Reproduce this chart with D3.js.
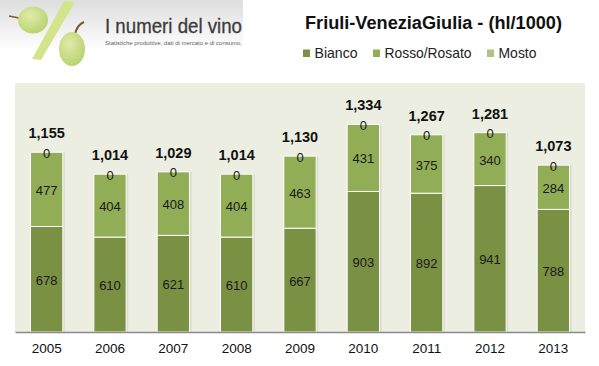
<!DOCTYPE html>
<html>
<head>
<meta charset="utf-8">
<script src="https://cdnjs.cloudflare.com/ajax/libs/d3/7.8.5/d3.min.js"></script>
<style>
  html, body { margin: 0; padding: 0; background: #fff; }
  svg { display: block; }
  text { font-family: "Liberation Sans", Arial, sans-serif; }
</style>
</head>
<body>
<svg id="chart" width="599" height="366"></svg>
<script>
const years = ['2005', '2006', '2007', '2008', '2009', '2010', '2011', '2012', '2013']
const bianco = [678, 610, 621, 610, 667, 903, 892, 941, 788]
const rosso = [477, 404, 408, 404, 463, 431, 375, 340, 284]
const mosto = [0, 0, 0, 0, 0, 0, 0, 0, 0]
const totals = [1155, 1014, 1029, 1014, 1130, 1334, 1267, 1281, 1073]
const seriesNames = ['Bianco', 'Rosso/Rosato', 'Mosto']
const seriesColors = ['#7a9043', '#91ad55', '#aec581']

const svg = d3.select('#chart')
const defs = svg.append('defs')

// header strip behind the logo
let grad = defs.append('linearGradient').attr('id', 'head').attr('x1', 0).attr('x2', 0).attr('y1', 0).attr('y2', 1)
grad.append('stop').attr('offset', 0).attr('stop-color', '#dddddd')
grad.append('stop').attr('offset', 0.72).attr('stop-color', '#ffffff')

let grape = defs.append('radialGradient').attr('id', 'grape').attr('cx', 0.4).attr('cy', 0.35).attr('r', 0.75)
grape.append('stop').attr('offset', 0).attr('stop-color', '#dfeba8')
grape.append('stop').attr('offset', 1).attr('stop-color', '#b4d06a')

let logo = svg.append('g')
logo.append('rect').attr('width', 243).attr('height', 70).attr('fill', 'url(#head)')
logo.append('polygon')
  .attr('points', '64,1 75,2 41,60 32,59')
  .attr('fill', '#d3e58b')
logo.append('path').attr('d', 'M9,16 L19,18').attr('stroke', '#7b5a2a').attr('stroke-width', 1.5).attr('fill', 'none')
logo.append('path').attr('d', 'M75,34 Q77,25 84,22').attr('stroke', '#7b5a2a').attr('stroke-width', 2).attr('fill', 'none')
logo.append('ellipse').attr('cx', 33).attr('cy', 20).attr('rx', 15).attr('ry', 13.5).attr('fill', 'url(#grape)')
logo.append('ellipse').attr('cx', 72).attr('cy', 49).attr('rx', 13).attr('ry', 17).attr('fill', 'url(#grape)')
logo.append('text').attr('x', 105).attr('y', 33)
  .attr('font-size', 20).attr('fill', '#3c3c3c').attr('stroke', '#3c3c3c').attr('stroke-width', 0.3)
  .attr('textLength', 137).attr('lengthAdjust', 'spacingAndGlyphs')
  .text('I numeri del vino')
logo.append('text').attr('x', 105).attr('y', 45)
  .attr('font-size', 6).attr('fill', '#666')
  .attr('textLength', 137).attr('lengthAdjust', 'spacingAndGlyphs')
  .text('Statistiche produttive, dati di mercato e di consumo,')

// title and legend
svg.append('text').attr('x', 433.5).attr('y', 29)
  .attr('text-anchor', 'middle').attr('font-size', 18).attr('font-weight', 'bold').attr('fill', '#111')
  .attr('textLength', 257).attr('lengthAdjust', 'spacingAndGlyphs')
  .text('Friuli-VeneziaGiulia - (hl/1000)')

const legendX = [303, 373, 487]
const legendW = [43, 87, 38]
seriesNames.forEach((name, i) => {
  svg.append('rect').attr('x', legendX[i]).attr('y', 49.5).attr('width', 7).attr('height', 7.5).attr('fill', seriesColors[i])
  svg.append('text').attr('x', legendX[i] + 11.5).attr('y', 58)
    .attr('font-size', 14.5).attr('fill', '#222')
    .attr('textLength', legendW[i]).attr('lengthAdjust', 'spacingAndGlyphs')
    .text(name)
})

// plot
const x = d3.scaleBand().domain(years).range([15, 585]).paddingInner(0.49).paddingOuter(0.245)
const y = d3.scaleLinear().domain([0, 1600]).range([332, 83])

svg.append('rect').attr('x', 15).attr('y', 83).attr('width', 570).attr('height', 249).attr('fill', '#ebeee0')

const rows = years.map((year, i) => ({ year, Bianco: bianco[i], 'Rosso/Rosato': rosso[i], Mosto: mosto[i], total: totals[i] }))
const stacked = d3.stack().keys(seriesNames)(rows)

// soft shadow down the right of each bar
svg.append('g').selectAll('rect').data(rows).join('rect')
  .attr('x', d => x(d.year) + 1)
  .attr('y', d => y(d.total))
  .attr('width', x.bandwidth() + 1)
  .attr('height', d => y(0) - y(d.total))
  .attr('fill', '#d9dbcf')

stacked.forEach((layer, i) => {
  svg.append('g').selectAll('rect').data(layer).join('rect')
    .attr('x', d => x(d.data.year))
    .attr('y', d => y(d[1]))
    .attr('width', x.bandwidth())
    .attr('height', d => y(d[0]) - y(d[1]))
    .attr('fill', seriesColors[i])
    .attr('stroke', '#fff')
    .attr('stroke-width', 1)
})

stacked.forEach(layer => {
  svg.append('g').selectAll('text').data(layer).join('text')
    .attr('x', d => x(d.data.year) + x.bandwidth() / 2)
    .attr('y', d => y((d[0] + d[1]) / 2) + 5.5)
    .attr('text-anchor', 'middle').attr('font-size', 13).attr('fill', '#1a1a1a')
    .text(d => d[1] - d[0])
})

svg.append('g').selectAll('text').data(rows).join('text')
  .attr('x', d => x(d.year) + x.bandwidth() / 2)
  .attr('y', d => y(d.total) - 14)
  .attr('text-anchor', 'middle').attr('font-size', 14.5).attr('font-weight', 'bold').attr('fill', '#111')
  .text(d => d3.format(',')(d.total))

// axis: baseline and year labels only
const xAxis = svg.append('g').attr('transform', 'translate(0,332)')
  .call(d3.axisBottom(x).tickSize(0).tickPadding(11))
xAxis.select('.domain').attr('stroke', '#8a8a8a').attr('stroke-width', 1.5)
xAxis.selectAll('text').attr('font-size', 13.5).attr('fill', '#111')
  .attr('font-family', '"Liberation Sans", Arial, sans-serif')
</script>
</body>
</html>
